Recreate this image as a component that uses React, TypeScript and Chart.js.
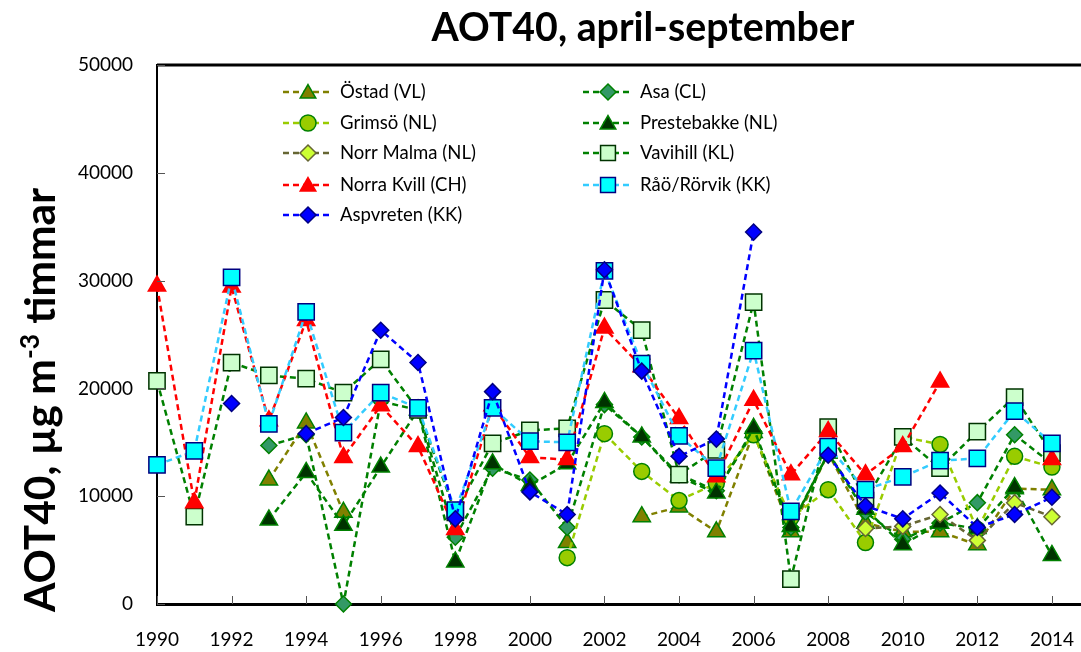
import React, { useEffect, useRef } from 'react';
import { Chart, registerables } from 'chart.js';
Chart.register(...registerables);

const years = [1990, 1991, 1992, 1993, 1994, 1995, 1996, 1997, 1998, 1999, 2000, 2001, 2002, 2003, 2004, 2005, 2006, 2007, 2008, 2009, 2010, 2011, 2012, 2013, 2014];
const xTickYears = [1990, 1992, 1994, 1996, 1998, 2000, 2002, 2004, 2006, 2008, 2010, 2012, 2014];
const yTickValues = [0, 10000, 20000, 30000, 40000, 50000];

const ostad = [null, null, null, 11500, 16800, 8500, null, null, null, null, null, 5700, null, 8100, 9000, 6700, 15900, 6700, 14000, 7500, 6700, 6700, 5500, 10700, 10600];
const asa = [null, null, null, 14700, 15700, 0, 18800, 18000, 6200, 12600, 11500, 7100, 18500, 15500, 12000, 10500, 16000, 7100, 14000, 8500, 6000, 7500, 9400, 15700, 13000];
const grimso = [null, null, null, null, null, null, null, null, null, null, null, 4300, 15800, 12300, 9600, 11200, 15700, 8000, 10600, 5700, 15500, 14800, 6900, 13700, 12700];
const prestebakke = [null, null, null, 7800, 12200, 7300, 12700, 18000, 3900, 13000, 11000, 13000, 18700, 15500, 11800, 10300, 16300, 7200, 14000, 8800, 5500, 7500, 7000, 10800, 4500];
const norrMalma = [null, null, null, null, null, null, null, null, null, null, null, null, null, null, null, null, null, null, null, 7000, 7200, 8300, 5900, 9400, 8100];
const vavihill = [20700, 8100, 22400, 21200, 20900, 19600, 22700, 18000, 8500, 14900, 16100, 16300, 28200, 25400, 12000, 14300, 28000, 2300, 16400, 9600, 15500, 12600, 16000, 19200, 14000];
const norraKvill = [29500, 9400, 29400, 17000, 26300, 13600, 18400, 14600, 6900, 18400, 13600, 13400, 25600, 22000, 17200, 11800, 18900, 12000, 16000, 12000, 14600, 20600, null, null, 13400];
const raoRorvik = [12900, 14200, 30300, 16700, 27100, 15900, 19600, 18200, 8700, 18200, 15100, 15000, 30900, 22300, 15600, 12600, 23500, 8600, 14600, 10600, 11800, 13300, 13500, 17900, 14900];
const aspvreten = [null, null, 18600, null, 15800, 17300, 25400, 22400, 7900, 19700, 10400, 8300, 31000, 21600, 13700, 15300, 34500, null, 13800, 9100, 7900, 10300, 7100, 8300, 9900];

const FONT = 'Lato, "Open Sans", "DejaVu Sans", sans-serif';

type Shape = 'triangle' | 'rectRot' | 'circle' | 'rect';
interface Series {
  label: string;
  data: (number | null)[];
  line: string;
  fill: string;
  border: string;
  shape: Shape;
  r: number;
  col: number;
  row: number;
}

const series: Series[] = [
  { label: 'Östad (VL)', data: ostad, line: '#808000', fill: '#808000', border: '#008000', shape: 'triangle', r: 10, col: 0, row: 0 },
  { label: 'Asa (CL)', data: asa, line: '#008000', fill: '#339966', border: '#008000', shape: 'rectRot', r: 8, col: 1, row: 0 },
  { label: 'Grimsö (NL)', data: grimso, line: '#99CC00', fill: '#99CC00', border: '#008000', shape: 'circle', r: 8, col: 0, row: 1 },
  { label: 'Prestebakke (NL)', data: prestebakke, line: '#008000', fill: '#003300', border: '#008000', shape: 'triangle', r: 10, col: 1, row: 1 },
  { label: 'Norr Malma (NL)', data: norrMalma, line: '#666633', fill: '#CCFF33', border: '#666633', shape: 'rectRot', r: 8, col: 0, row: 2 },
  { label: 'Vavihill (KL)', data: vavihill, line: '#008000', fill: '#CCFFCC', border: '#003300', shape: 'rect', r: 11.5, col: 1, row: 2 },
  { label: 'Norra Kvill (CH)', data: norraKvill, line: '#FF0000', fill: '#FF0000', border: '#FF0000', shape: 'triangle', r: 10, col: 0, row: 3 },
  { label: 'Råö/Rörvik (KK)', data: raoRorvik, line: '#33CCFF', fill: '#00FFFF', border: '#000080', shape: 'rect', r: 11.5, col: 1, row: 3 },
  { label: 'Aspvreten (KK)', data: aspvreten, line: '#0000FF', fill: '#0000FF', border: '#000080', shape: 'rectRot', r: 8, col: 0, row: 4 },
];

function drawMarker(ctx: CanvasRenderingContext2D, shape: Shape, x: number, y: number, r: number, fill: string, stroke: string) {
  ctx.save();
  ctx.setLineDash([]);
  ctx.fillStyle = fill;
  ctx.strokeStyle = stroke;
  ctx.lineWidth = 1.5;
  ctx.beginPath();
  if (shape === 'triangle') {
    let a = 0;
    ctx.moveTo(x + Math.sin(a) * r, y - Math.cos(a) * r);
    a += (2 * Math.PI) / 3;
    ctx.lineTo(x + Math.sin(a) * r, y - Math.cos(a) * r);
    a += (2 * Math.PI) / 3;
    ctx.lineTo(x + Math.sin(a) * r, y - Math.cos(a) * r);
    ctx.closePath();
  } else if (shape === 'rectRot') {
    ctx.moveTo(x, y - r);
    ctx.lineTo(x + r, y);
    ctx.lineTo(x, y + r);
    ctx.lineTo(x - r, y);
    ctx.closePath();
  } else if (shape === 'circle') {
    ctx.arc(x, y, r, 0, Math.PI * 2);
  } else {
    const s = Math.SQRT1_2 * r;
    ctx.rect(x - s, y - s, 2 * s, 2 * s);
  }
  ctx.fill();
  ctx.stroke();
  ctx.restore();
}

function fitSize(ctx: CanvasRenderingContext2D, text: string, weight: string, target: number) {
  ctx.font = `${weight} 100px ${FONT}`;
  const w = ctx.measureText(text).width;
  return (100 * target) / w;
}

const decorPlugin = {
  id: 'decor',
  afterDraw(chart: any) {
    const ctx: CanvasRenderingContext2D = chart.ctx;
    const area = chart.chartArea;
    const xs = chart.scales.x;
    const ys = chart.scales.y;
    ctx.save();

    // frame top
    ctx.strokeStyle = '#000';
    ctx.lineWidth = 3;
    ctx.beginPath();
    ctx.moveTo(area.left, area.top);
    ctx.lineTo(area.right, area.top);
    ctx.stroke();

    // inside tick marks
    ctx.strokeStyle = '#555';
    ctx.lineWidth = 1;
    for (const v of yTickValues) {
      const py = Math.round(ys.getPixelForValue(v)) + 0.5;
      ctx.beginPath();
      ctx.moveTo(area.left, py);
      ctx.lineTo(area.left + 8, py);
      ctx.stroke();
    }
    for (const v of xTickYears) {
      const px = Math.round(xs.getPixelForValue(v)) + 0.5;
      ctx.beginPath();
      ctx.moveTo(px, area.bottom);
      ctx.lineTo(px, area.bottom - 8);
      ctx.stroke();
    }

    // x tick labels
    ctx.font = `normal 19px ${FONT}`;
    ctx.fillStyle = '#000';
    ctx.textAlign = 'center';
    ctx.textBaseline = 'middle';
    for (const v of xTickYears) {
      ctx.fillText(String(v), xs.getPixelForValue(v), 640);
    }

    // title
    const title = 'AOT40, april-september';
    const ts = fitSize(ctx, title, 'bold', 423);
    ctx.font = `bold ${ts}px ${FONT}`;
    ctx.fillStyle = '#000';
    ctx.textAlign = 'center';
    ctx.textBaseline = 'middle';
    ctx.fillText(title, 643, 28);

    // y axis title
    const p1 = 'AOT40, µg m';
    const p2 = '-3';
    const p3 = ' timmar';
    ctx.font = `bold 100px ${FONT}`;
    const w1 = ctx.measureText(p1).width;
    const w3 = ctx.measureText(p3).width;
    ctx.font = `bold 62px ${FONT}`;
    const w2 = ctx.measureText(p2).width;
    const scale = 424 / (w1 + w2 + w3);
    const fs = 100 * scale;
    const sfs = 62 * scale;
    ctx.save();
    ctx.translate(40, 400);
    ctx.rotate(-Math.PI / 2);
    ctx.textAlign = 'left';
    ctx.textBaseline = 'alphabetic';
    let x = -(w1 + w2 + w3) * scale / 2;
    const base = fs * 0.36;
    ctx.font = `bold ${fs}px ${FONT}`;
    ctx.fillText(p1, x, base);
    x += w1 * scale;
    ctx.font = `bold ${sfs}px ${FONT}`;
    ctx.fillText(p2, x, base - fs * 0.38);
    x += w2 * scale;
    ctx.font = `bold ${fs}px ${FONT}`;
    ctx.fillText(p3, x, base);
    ctx.restore();

    // legend
    const ls = fitSize(ctx, 'Norr Malma (NL)', 'normal', 136);
    const colX = [308, 608];
    const textX = [340, 640];
    const rowY = [92, 123, 153, 185, 215];
    for (const s of series) {
      const cx = colX[s.col];
      const cy = rowY[s.row];
      ctx.save();
      ctx.strokeStyle = s.line;
      ctx.lineWidth = 2.5;
      ctx.setLineDash([6, 4]);
      ctx.beginPath();
      ctx.moveTo(cx - 25, cy);
      ctx.lineTo(cx + 25, cy);
      ctx.stroke();
      ctx.restore();
      const legR = s.shape === 'rect' ? 10.5 : s.shape === 'triangle' ? 9 : 8;
      drawMarker(ctx, s.shape, cx, s.shape === 'triangle' ? cy + 1.5 : cy, legR, s.fill, s.border);
      ctx.font = `normal ${ls}px ${FONT}`;
      ctx.fillStyle = '#000';
      ctx.textAlign = 'left';
      ctx.textBaseline = 'middle';
      ctx.fillText(s.label, textX[s.col], cy);
    }
    ctx.restore();
  },
};

export default function App() {
  const ref = useRef<HTMLCanvasElement | null>(null);
  useEffect(() => {
    if (!ref.current) return;
    const drawOrder = [...series].reverse();
    const chart = new Chart(ref.current, {
      type: 'line',
      data: {
        labels: years,
        datasets: drawOrder.map((s) => ({
          label: s.label,
          data: s.data.map((v, i) => ({ x: years[i], y: v })),
          borderColor: s.line,
          backgroundColor: s.fill,
          borderWidth: 2.5,
          borderDash: [6, 4],
          pointStyle: s.shape,
          pointRadius: s.r,
          pointBackgroundColor: s.fill,
          pointBorderColor: s.border,
          pointBorderWidth: 1.5,
          fill: false,
          tension: 0,
          spanGaps: false,
          clip: false,
        })) as any,
      },
      options: {
        responsive: false,
        animation: false,
        devicePixelRatio: 1,
        events: [],
        layout: { autoPadding: false, padding: { top: 65, right: 0, left: 0, bottom: 0 } },
        plugins: { legend: { display: false }, title: { display: false }, tooltip: { enabled: false } },
        scales: {
          x: {
            type: 'linear',
            min: 1990,
            max: 2014.78,
            afterBuildTicks: (s: any) => {
              s.ticks = xTickYears.map((v) => ({ value: v }));
            },
            afterFit: (s: any) => {
              s.height = 48;
            },
            grid: { display: true, drawOnChartArea: false, drawTicks: false },
            border: { display: true, color: '#000', width: 3 },
            ticks: { display: false },
          },
          y: {
            type: 'linear',
            min: 0,
            max: 50000,
            afterBuildTicks: (s: any) => {
              s.ticks = yTickValues.map((v) => ({ value: v }));
            },
            afterFit: (s: any) => {
              s.width = 157;
            },
            grid: { display: true, drawOnChartArea: false, drawTicks: false },
            border: { display: true, color: '#000', width: 2 },
            ticks: {
              font: { family: FONT, size: 19 },
              color: '#000',
              padding: 24,
              callback: (v: any) => String(v),
            },
          },
        },
      } as any,
      plugins: [decorPlugin],
    });
    return () => chart.destroy();
  }, []);
  return (
    <canvas
      ref={ref}
      width={1081}
      height={652}
      style={{ position: 'fixed', left: 0, top: 0, width: 1081, height: 652, background: '#fff' }}
    />
  );
}
